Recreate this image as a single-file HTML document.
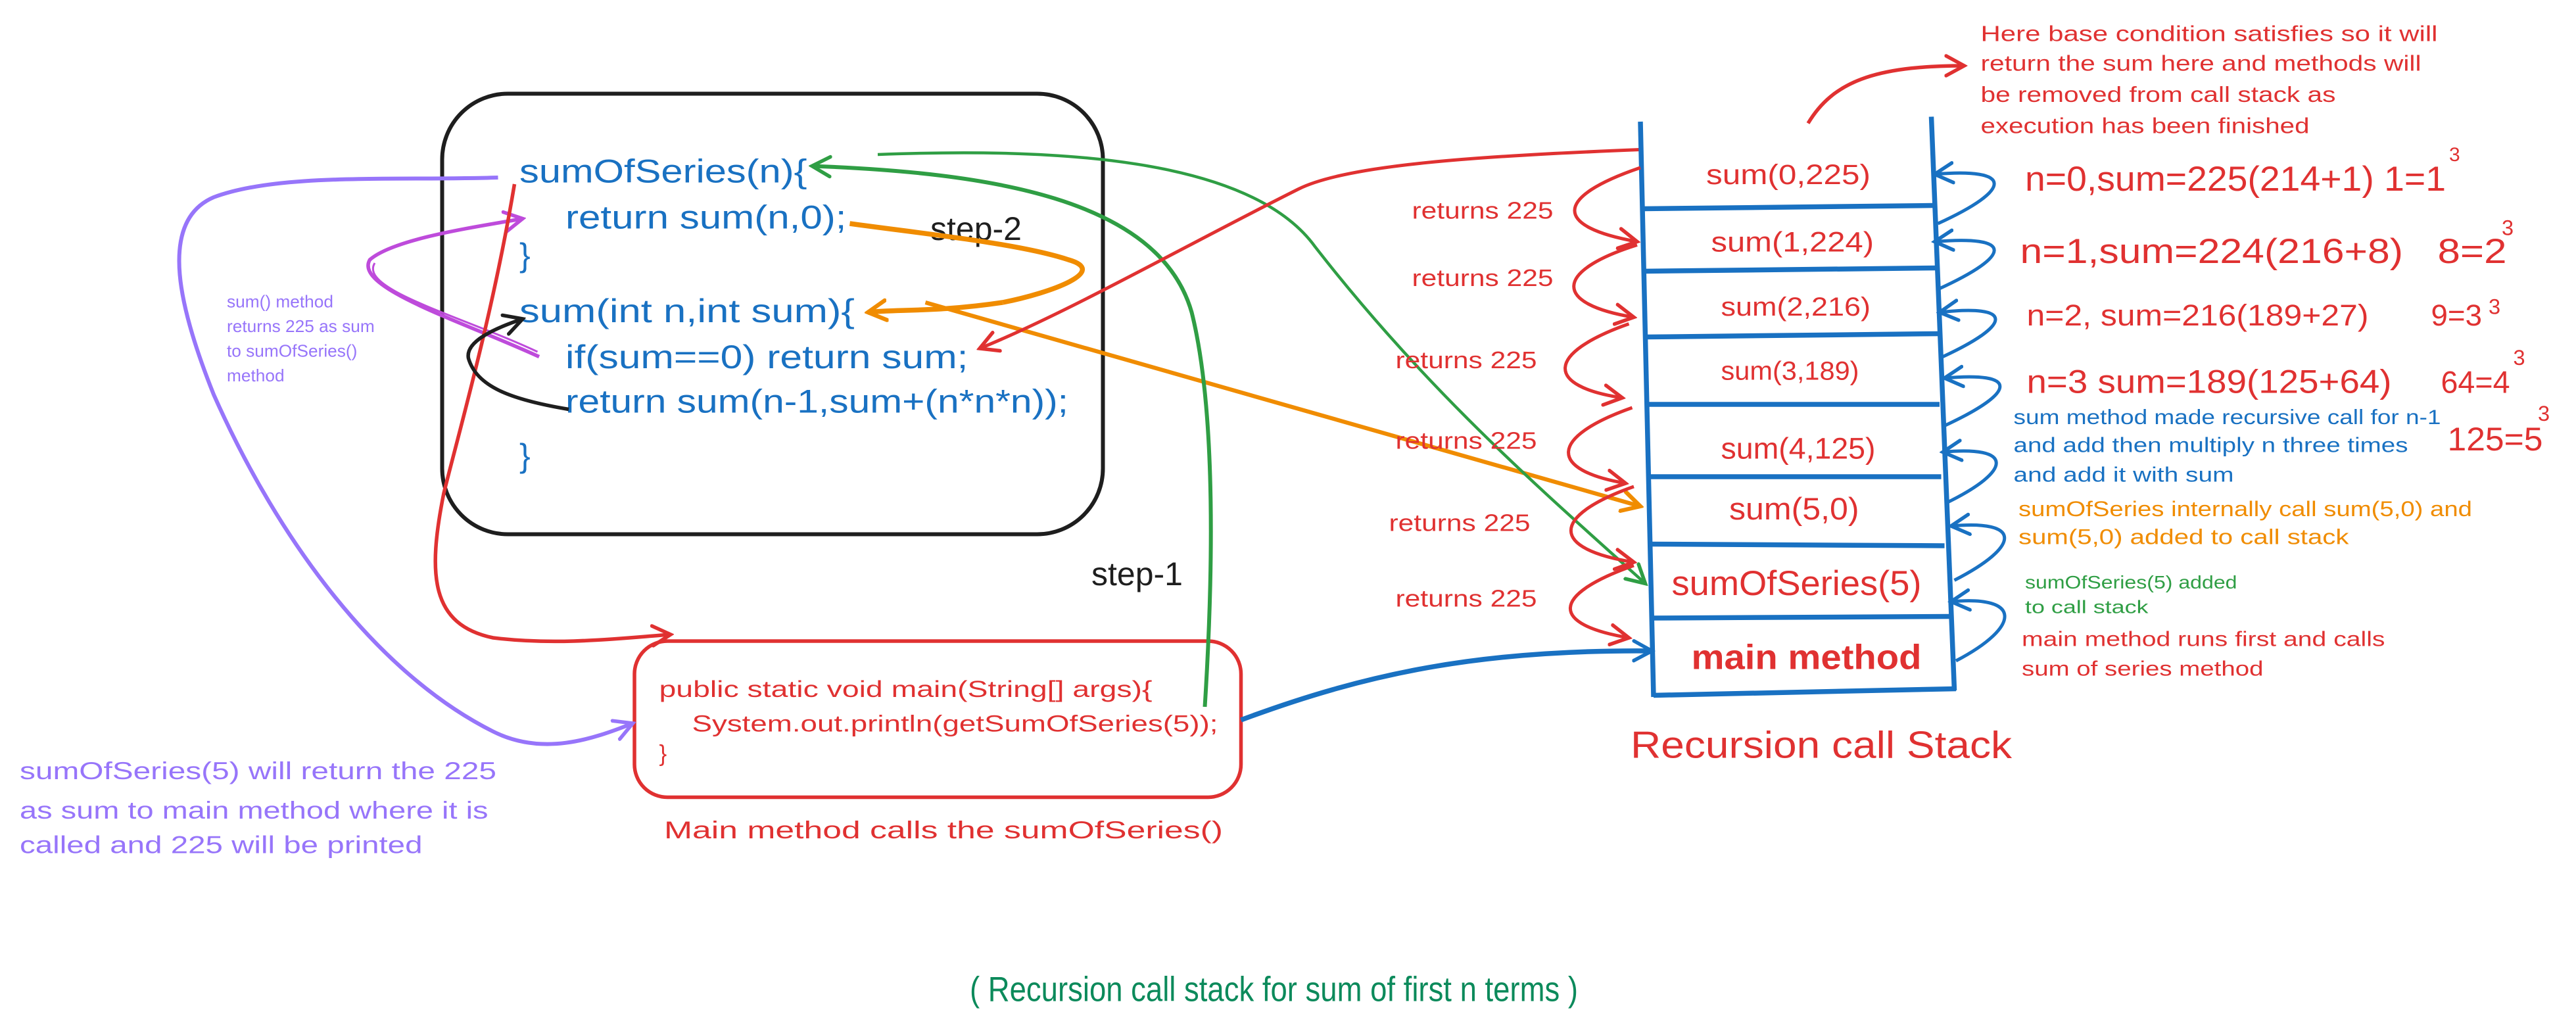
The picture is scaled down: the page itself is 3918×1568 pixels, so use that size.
<!DOCTYPE html>
<html><head><meta charset="utf-8"><style>
html,body{margin:0;padding:0;background:#fff;width:3918px;height:1568px;overflow:hidden}
svg{display:block}
text{font-family:"Liberation Sans","DejaVu Sans",sans-serif}
</style></head><body>
<svg width="3918" height="1568" viewBox="0 0 1567.2 627.2" xmlns="http://www.w3.org/2000/svg">
<defs>
<marker id="aR" viewBox="-12 -8 14 16" markerWidth="14" markerHeight="16" refX="0" refY="0" orient="auto" markerUnits="userSpaceOnUse"><path d="M-11,-6 L0,0 L-11,6" fill="none" stroke="#e03131" stroke-width="2.2" stroke-linecap="round"/></marker>
<marker id="aB" viewBox="-12 -8 14 16" markerWidth="14" markerHeight="16" refX="0" refY="0" orient="auto" markerUnits="userSpaceOnUse"><path d="M-11,-6 L0,0 L-11,6" fill="none" stroke="#1971c2" stroke-width="2.2" stroke-linecap="round"/></marker>
<marker id="aG" viewBox="-12 -8 14 16" markerWidth="14" markerHeight="16" refX="0" refY="0" orient="auto" markerUnits="userSpaceOnUse"><path d="M-11,-6 L0,0 L-11,6" fill="none" stroke="#2f9e44" stroke-width="2.2" stroke-linecap="round"/></marker>
<marker id="aO" viewBox="-12 -8 14 16" markerWidth="14" markerHeight="16" refX="0" refY="0" orient="auto" markerUnits="userSpaceOnUse"><path d="M-11,-6 L0,0 L-11,6" fill="none" stroke="#f08c00" stroke-width="2.5" stroke-linecap="round"/></marker>
<marker id="aP" viewBox="-12 -8 14 16" markerWidth="14" markerHeight="16" refX="0" refY="0" orient="auto" markerUnits="userSpaceOnUse"><path d="M-11,-6 L0,0 L-11,6" fill="none" stroke="#9775fa" stroke-width="2.2" stroke-linecap="round"/></marker>
<marker id="aM" viewBox="-12 -8 14 16" markerWidth="14" markerHeight="16" refX="0" refY="0" orient="auto" markerUnits="userSpaceOnUse"><path d="M-11,-6 L0,0 L-11,6" fill="none" stroke="#be4bdb" stroke-width="2.2" stroke-linecap="round"/></marker>
<marker id="aK" viewBox="-12 -8 14 16" markerWidth="14" markerHeight="16" refX="0" refY="0" orient="auto" markerUnits="userSpaceOnUse"><path d="M-11,-6 L0,0 L-11,6" fill="none" stroke="#1e1e1e" stroke-width="2.2" stroke-linecap="round"/></marker>
</defs>

<!-- black code box -->
<rect x="269" y="57" width="402" height="268" rx="40" fill="none" stroke="#1e1e1e" stroke-width="2.4"/>
<g fill="#1971c2" font-size="20">
<text x="316" y="111" textLength="175" lengthAdjust="spacingAndGlyphs">sumOfSeries(n){</text>
<text x="344" y="139" textLength="171" lengthAdjust="spacingAndGlyphs">return sum(n,0);</text>
<text x="316" y="162">}</text>
<text x="316" y="196" textLength="204" lengthAdjust="spacingAndGlyphs">sum(int n,int sum){</text>
<text x="344" y="224" textLength="245" lengthAdjust="spacingAndGlyphs">if(sum==0) return sum;</text>
<text x="344" y="251" textLength="306" lengthAdjust="spacingAndGlyphs">return sum(n-1,sum+(n*n*n));</text>
<text x="316" y="284">}</text>
</g>
<text x="566" y="146" font-size="20" fill="#1e1e1e">step-2</text>
<text x="664" y="356" font-size="20" fill="#1e1e1e">step-1</text>

<!-- main box -->
<rect x="386" y="390" width="369" height="95" rx="20" fill="none" stroke="#e03131" stroke-width="2.2"/>
<g fill="#e03131" font-size="14">
<text x="401" y="424" textLength="300" lengthAdjust="spacingAndGlyphs">public static void main(String[] args){</text>
<text x="421" y="445" textLength="320" lengthAdjust="spacingAndGlyphs">System.out.println(getSumOfSeries(5));</text>
<text x="401" y="463">}</text>
</g>
<text x="404" y="510" font-size="15" fill="#e03131" textLength="340" lengthAdjust="spacingAndGlyphs">Main method calls the sumOfSeries()</text>

<!-- purple texts -->
<g fill="#9775fa" font-size="15">
<text x="12" y="474" textLength="290" lengthAdjust="spacingAndGlyphs">sumOfSeries(5) will return the 225</text>
<text x="12" y="498" textLength="285" lengthAdjust="spacingAndGlyphs">as sum to main method where it is</text>
<text x="12" y="519" textLength="245" lengthAdjust="spacingAndGlyphs">called and 225 will be printed</text>
</g>
<g fill="#9775fa" font-size="10.5">
<text x="138" y="187">sum() method</text>
<text x="138" y="202">returns 225 as sum</text>
<text x="138" y="217">to sumOfSeries()</text>
<text x="138" y="232">method</text>
</g>

<!-- left connectors -->
<path d="M303,108 C240,110 170,105 130,120 C95,135 110,190 130,240 C170,330 230,410 300,445 C330,460 360,450 385,440" fill="none" stroke="#9775fa" stroke-width="2.4" marker-end="url(#aP)"/>
<path d="M328,217 C280,195 215,175 225,158 C240,145 290,138 318,133" fill="none" stroke="#be4bdb" stroke-width="2.2" marker-end="url(#aM)"/>
<path d="M327,214 C280,192 218,176 228,160" fill="none" stroke="#be4bdb" stroke-width="1.2"/>
<path d="M313,112 C300,190 280,260 270,300 C260,350 262,380 300,388 C340,393 380,388 408,386" fill="none" stroke="#e03131" stroke-width="2.2" marker-end="url(#aR)"/>
<path d="M346,249 C310,243 290,235 285,218 C283,208 300,200 318,194" fill="none" stroke="#1e1e1e" stroke-width="2.2" marker-end="url(#aK)"/>

<!-- orange -->
<path d="M517,136 C560,142 620,148 650,158 C675,165 640,178 610,184" fill="none" stroke="#f08c00" stroke-width="3"/>
<path d="M610,184 C570,190 545,188 528,190" fill="none" stroke="#f08c00" stroke-width="3" marker-end="url(#aO)"/>
<path d="M563,184 L998,308" fill="none" stroke="#f08c00" stroke-width="2.5" marker-end="url(#aO)"/>

<!-- green -->
<path d="M733,430 C738,350 740,250 725,190 C705,120 600,105 494,101" fill="none" stroke="#2f9e44" stroke-width="2.4" marker-end="url(#aG)"/>
<path d="M534,94 C640,90 760,95 800,150 C870,240 940,300 1001,355" fill="none" stroke="#2f9e44" stroke-width="1.8" marker-end="url(#aG)"/>

<!-- red from stack top -->
<path d="M998,91 C900,95 820,100 790,115 C720,150 650,190 596,212" fill="none" stroke="#e03131" stroke-width="2" marker-end="url(#aR)"/>
<!-- blue main -->
<path d="M755,438 C830,410 900,395 1005,396" fill="none" stroke="#1971c2" stroke-width="3" marker-end="url(#aB)"/>
<!-- red top arrow -->
<path d="M1100,75 C1115,50 1140,40 1195,40" fill="none" stroke="#e03131" stroke-width="2.2" marker-end="url(#aR)"/>

<!-- stack -->
<g stroke="#1971c2" stroke-width="3" fill="none">
<path d="M998,74 L1006,424"/>
<path d="M1175,71 L1189,420"/>
<path d="M999,127 L1176,125"/>
<path d="M1000,165 L1178,163"/>
<path d="M1001,205 L1179,203"/>
<path d="M1001,246 L1180,246"/>
<path d="M1002,290 L1181,290"/>
<path d="M1003,331 L1183,332"/>
<path d="M1004,376 L1187,375"/>
<path d="M1006,423 L1190,419"/>
</g>
<g fill="#e03131">
<text x="1038" y="112" font-size="17" textLength="100" lengthAdjust="spacingAndGlyphs">sum(0,225)</text>
<text x="1041" y="153" font-size="17" textLength="99" lengthAdjust="spacingAndGlyphs">sum(1,224)</text>
<text x="1047" y="192" font-size="16" textLength="91" lengthAdjust="spacingAndGlyphs">sum(2,216)</text>
<text x="1047" y="231" font-size="16" textLength="84" lengthAdjust="spacingAndGlyphs">sum(3,189)</text>
<text x="1047" y="279" font-size="18" textLength="94" lengthAdjust="spacingAndGlyphs">sum(4,125)</text>
<text x="1052" y="316" font-size="19" textLength="79" lengthAdjust="spacingAndGlyphs">sum(5,0)</text>
<text x="1017" y="362" font-size="21" textLength="152" lengthAdjust="spacingAndGlyphs">sumOfSeries(5)</text>
<text x="1029" y="407" font-size="21" font-weight="bold" textLength="140" lengthAdjust="spacingAndGlyphs">main method</text>
<text x="992" y="461" font-size="23" textLength="232" lengthAdjust="spacingAndGlyphs">Recursion call Stack</text>
</g>
<g fill="#e03131" font-size="14.5">
<text x="859" y="133" textLength="86" lengthAdjust="spacingAndGlyphs">returns 225</text>
<text x="859" y="174" textLength="86" lengthAdjust="spacingAndGlyphs">returns 225</text>
<text x="849" y="224" textLength="86" lengthAdjust="spacingAndGlyphs">returns 225</text>
<text x="849" y="273" textLength="86" lengthAdjust="spacingAndGlyphs">returns 225</text>
<text x="845" y="323" textLength="86" lengthAdjust="spacingAndGlyphs">returns 225</text>
<text x="849" y="369" textLength="86" lengthAdjust="spacingAndGlyphs">returns 225</text>
</g>
<!-- red zigzags -->
<g fill="none" stroke="#e03131" stroke-width="2">
<path d="M998,102 C945,120 945,138 996,147" marker-end="url(#aR)"/>
<path d="M996,149 C945,165 945,185 994,193" marker-end="url(#aR)"/>
<path d="M991,197 C940,215 940,235 987,242" marker-end="url(#aR)"/>
<path d="M993,248 C942,266 942,286 989,294" marker-end="url(#aR)"/>
<path d="M994,296 C943,314 943,334 994,342" marker-end="url(#aR)"/>
<path d="M994,344 C943,362 943,380 991,388" marker-end="url(#aR)"/>
</g>
<!-- blue zigzags -->
<g fill="none" stroke="#1971c2" stroke-width="2">
<path d="M1179,136 C1225,115 1225,102 1177,106" marker-end="url(#aB)"/>
<path d="M1179,176 C1225,155 1225,143 1177,147" marker-end="url(#aB)"/>
<path d="M1182,217 C1225,197 1225,185 1180,190" marker-end="url(#aB)"/>
<path d="M1183,259 C1228,238 1228,226 1183,230" marker-end="url(#aB)"/>
<path d="M1184,306 C1225,286 1225,271 1182,275" marker-end="url(#aB)"/>
<path d="M1189,353 C1230,332 1230,316 1187,320" marker-end="url(#aB)"/>
<path d="M1190,402 C1230,381 1230,362 1187,366" marker-end="url(#aB)"/>
</g>

<!-- right texts -->
<g fill="#e03131" font-size="13.5">
<text x="1205" y="25" textLength="278" lengthAdjust="spacingAndGlyphs">Here base condition satisfies so it will</text>
<text x="1205" y="43" textLength="268" lengthAdjust="spacingAndGlyphs">return the sum here and methods will</text>
<text x="1205" y="62" textLength="216" lengthAdjust="spacingAndGlyphs">be removed from call stack as</text>
<text x="1205" y="81" textLength="200" lengthAdjust="spacingAndGlyphs">execution has been finished</text>
</g>
<g fill="#e03131" font-size="21">
<text x="1232" y="116" textLength="256" lengthAdjust="spacingAndGlyphs">n=0,sum=225(214+1) 1=1</text>
<text x="1490" y="98" font-size="12">3</text>
<text x="1229" y="160" textLength="233" lengthAdjust="spacingAndGlyphs">n=1,sum=224(216+8)</text>
<text x="1483" y="160" textLength="42" lengthAdjust="spacingAndGlyphs">8=2</text>
<text x="1522" y="143" font-size="13">3</text>
<text x="1233" y="198" font-size="18" textLength="208" lengthAdjust="spacingAndGlyphs">n=2, sum=216(189+27)</text>
<text x="1479" y="198" font-size="18" textLength="31" lengthAdjust="spacingAndGlyphs">9=3</text>
<text x="1514" y="191" font-size="13">3</text>
<text x="1233" y="239" font-size="20" textLength="222" lengthAdjust="spacingAndGlyphs">n=3 sum=189(125+64)</text>
<text x="1485" y="239" font-size="19" textLength="42" lengthAdjust="spacingAndGlyphs">64=4</text>
<text x="1529" y="222" font-size="13">3</text>
<text x="1489" y="274" font-size="20" textLength="58" lengthAdjust="spacingAndGlyphs">125=5</text>
<text x="1544" y="256" font-size="13">3</text>
</g>
<g fill="#1971c2" font-size="12.5">
<text x="1225" y="258" textLength="260" lengthAdjust="spacingAndGlyphs">sum method made recursive call for n-1</text>
<text x="1225" y="275" textLength="240" lengthAdjust="spacingAndGlyphs">and add then multiply n three times</text>
<text x="1225" y="293" textLength="134" lengthAdjust="spacingAndGlyphs">and add it with sum</text>
</g>
<g fill="#f08c00" font-size="13">
<text x="1228" y="314" textLength="276" lengthAdjust="spacingAndGlyphs">sumOfSeries internally call sum(5,0) and</text>
<text x="1228" y="331" textLength="201" lengthAdjust="spacingAndGlyphs">sum(5,0) added to call stack</text>
</g>
<g fill="#2f9e44" font-size="11">
<text x="1232" y="358" textLength="129" lengthAdjust="spacingAndGlyphs">sumOfSeries(5) added</text>
<text x="1232" y="373" textLength="75" lengthAdjust="spacingAndGlyphs">to call stack</text>
</g>
<g fill="#e03131" font-size="12.5">
<text x="1230" y="393" textLength="221" lengthAdjust="spacingAndGlyphs">main method runs first and calls</text>
<text x="1230" y="411" textLength="147" lengthAdjust="spacingAndGlyphs">sum of series method</text>
</g>

<text x="590" y="609" font-size="21" fill="#0c8a5b" textLength="370" lengthAdjust="spacingAndGlyphs">( Recursion call stack for sum of first n terms )</text>
</svg>
</body></html>
